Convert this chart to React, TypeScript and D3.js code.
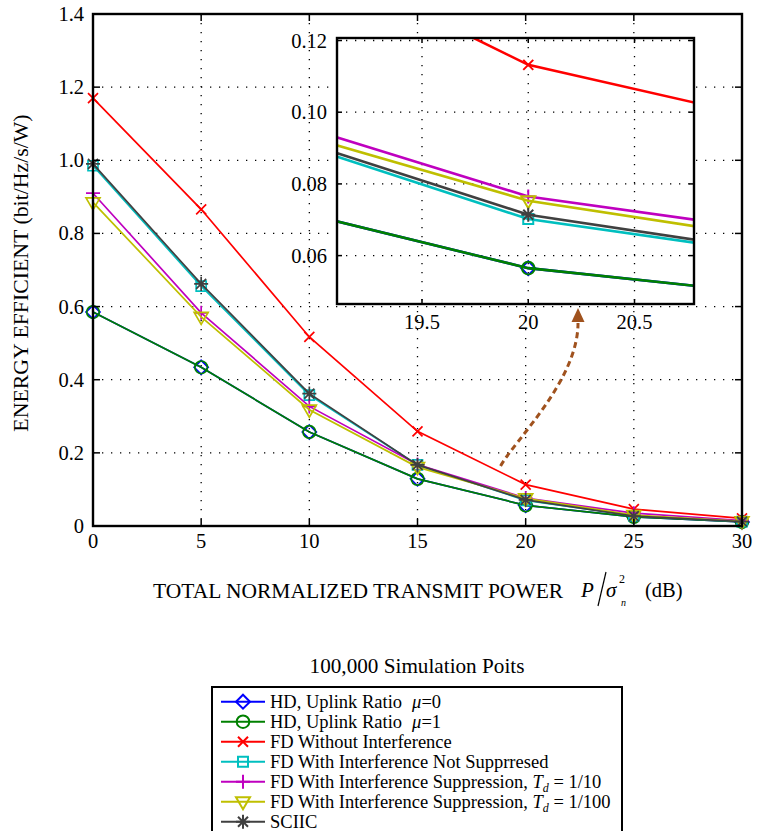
import React from 'react';
import * as d3 from 'd3';

// transmit power P/sigma_n^2 in dB
const powerDb = [0, 5, 10, 15, 20, 25, 30];

// energy efficiency (bit/Hz/s/W)
const hdMu0 = [0.585, 0.434, 0.257, 0.129, 0.0565, 0.025, 0.011];
const hdMu1 = [0.585, 0.434, 0.257, 0.129, 0.0565, 0.025, 0.011];
const fdNoInterference = [1.17, 0.866, 0.517, 0.259, 0.1132, 0.046, 0.021];
const fdNotSuppressed = [0.985, 0.656, 0.358, 0.167, 0.0702, 0.028, 0.012];
const fdTd10 = [0.91, 0.583, 0.327, 0.168, 0.0765, 0.035, 0.015];
const fdTd100 = [0.885, 0.572, 0.318, 0.161, 0.0753, 0.03, 0.013];
const sciic = [0.99, 0.662, 0.362, 0.167, 0.0714, 0.027, 0.012];

const mainXTicks = [0, 5, 10, 15, 20, 25, 30];
const mainYTicks = [0, 0.2, 0.4, 0.6, 0.8, 1.0, 1.2, 1.4];
const insetXTicks = [19.5, 20, 20.5];
const insetYTicks = [0.06, 0.08, 0.1, 0.12];

// curved arrow pointing from the x=20 cluster up to the zoomed view (data coords)
const arrowX = [18.84, 19.51, 22.42, 22.42];
const arrowY = [0.164, 0.235, 0.399, 0.555];
const arrowTip = [22.42, 0.596];

type Marker = 'diamond' | 'circle' | 'x' | 'square' | 'plus' | 'tri' | 'star';

const series: { label: string; values: number[]; color: string; marker: Marker }[] = [
  { label: 'hd0', values: hdMu0, color: '#0000ff', marker: 'diamond' },
  { label: 'hd1', values: hdMu1, color: '#008000', marker: 'circle' },
  { label: 'fd', values: fdNoInterference, color: '#ff0000', marker: 'x' },
  { label: 'ns', values: fdNotSuppressed, color: '#00bfbf', marker: 'square' },
  { label: 't10', values: fdTd10, color: '#bf00bf', marker: 'plus' },
  { label: 't100', values: fdTd100, color: '#bfbf00', marker: 'tri' },
  { label: 'sciic', values: sciic, color: '#404040', marker: 'star' },
];

const FONT = "'Liberation Serif', 'Times New Roman', serif";
const TICK_FS = 20.5;

function markerPath(m: Marker) {
  switch (m) {
    case 'diamond':
      return 'M0,-7L7,0L0,7L-7,0Z';
    case 'circle':
      return 'M6.3,0A6.3,6.3 0 1,1 -6.3,0A6.3,6.3 0 1,1 6.3,0Z';
    case 'x':
      return 'M-5,-5L5,5M-5,5L5,-5';
    case 'square':
      return 'M-5,-5H5V5H-5Z';
    case 'plus':
      return 'M-7,0H7M0,-7V7';
    case 'tri':
      return 'M-7,-4.5H7L0,7.5Z';
    case 'star':
      return 'M-7,0H7M0,-7V7M-5,-5L5,5M-5,5L5,-5';
  }
}

function Legend() {
  const x0 = 212;
  const y0 = 687;
  const rows = [
    <>HD, Uplink Ratio<tspan dx={10} fontStyle="italic">μ</tspan>=0</>,
    <>HD, Uplink Ratio<tspan dx={10} fontStyle="italic">μ</tspan>=1</>,
    <>FD Without Interference</>,
    <>FD With Interference Not Supprresed</>,
    <>FD With Interference Suppression, <tspan fontStyle="italic">T</tspan><tspan fontStyle="italic" fontSize={12} dy={4}>d</tspan><tspan dy={-4}> = 1/10</tspan></>,
    <>FD With Interference Suppression, <tspan fontStyle="italic">T</tspan><tspan fontStyle="italic" fontSize={12} dy={4}>d</tspan><tspan dy={-4}> = 1/100</tspan></>,
    <>SCIIC</>,
  ];
  return (
    <g>
      <rect x={x0} y={y0} width={410} height={170} fill="#fff" stroke="#000" strokeWidth={2} />
      {series.map((s, i) => {
        const cy = 701.7 + i * 20;
        return (
          <g key={s.label}>
            <line x1={221} x2={265} y1={cy} y2={cy} stroke={s.color} strokeWidth={2} />
            <path d={markerPath(s.marker)} transform={`translate(243,${cy})`} fill="none" stroke={s.color} strokeWidth={2} />
            <text x={270} y={cy + 6} fontSize={18.5}>{rows[i]}</text>
          </g>
        );
      })}
    </g>
  );
}

export default function App() {
  const x = d3.scaleLinear().domain([0, 30]).range([93, 742]);
  const y = d3.scaleLinear().domain([0, 1.4]).range([526, 14]);

  const ix = d3.scaleLinear().domain([19.1, 20.78]).range([337, 694]);
  const iy = d3.scaleLinear().domain([0.0465, 0.1207]).range([304, 38]);

  const mainLine = d3.line<number>().x((_, i) => x(powerDb[i])).y((d) => y(d));
  const insetLine = d3.line<number>().x((_, i) => ix(powerDb[i])).y((d) => iy(d));

  const arrowPath = d3.path();
  arrowPath.moveTo(x(arrowX[0]), y(arrowY[0]));
  arrowPath.bezierCurveTo(x(arrowX[1]), y(arrowY[1]), x(arrowX[2]), y(arrowY[2]), x(arrowX[3]), y(arrowY[3]));
  const tipX = x(arrowTip[0]);
  const tipY = y(arrowTip[1]);

  const grid = { stroke: '#000', strokeWidth: 1.3, strokeDasharray: '1.3 7.7' };

  return (
    <svg
      width={758}
      height={831}
      style={{ position: 'absolute', left: 0, top: 0, background: '#fff', fontFamily: FONT }}
    >
      <defs>
        <clipPath id="inset-clip">
          <rect x={337} y={38} width={357} height={266} />
        </clipPath>
      </defs>

      {/* main grid */}
      {mainXTicks.slice(1, -1).map((t) => (
        <line key={`gx${t}`} x1={x(t)} x2={x(t)} y1={14} y2={526} {...grid} />
      ))}
      {mainYTicks.slice(1, -1).map((t) => (
        <line key={`gy${t}`} x1={93} x2={742} y1={y(t)} y2={y(t)} {...grid} />
      ))}

      {/* main series */}
      {series.map((s) => (
        <g key={s.label}>
          <path d={mainLine(s.values) ?? ''} fill="none" stroke={s.color} strokeWidth={1.7} />
          {s.values.map((v, i) => (
            <path
              key={i}
              d={markerPath(s.marker)}
              transform={`translate(${x(powerDb[i])},${y(v)})`}
              fill="none"
              stroke={s.color}
              strokeWidth={1.7}
            />
          ))}
        </g>
      ))}

      {/* main box + ticks */}
      <rect x={93} y={14} width={649} height={512} fill="none" stroke="#000" strokeWidth={2.4} />
      {mainXTicks.map((t) => (
        <g key={`tx${t}`}>
          <line x1={x(t)} x2={x(t)} y1={526} y2={519} stroke="#000" strokeWidth={1.5} />
          <line x1={x(t)} x2={x(t)} y1={14} y2={21} stroke="#000" strokeWidth={1.5} />
          <text x={x(t)} y={548} fontSize={TICK_FS} textAnchor="middle">{t}</text>
        </g>
      ))}
      {mainYTicks.map((t) => (
        <g key={`ty${t}`}>
          <line x1={93} x2={100} y1={y(t)} y2={y(t)} stroke="#000" strokeWidth={1.5} />
          <line x1={742} x2={735} y1={y(t)} y2={y(t)} stroke="#000" strokeWidth={1.5} />
          <text x={84} y={y(t) + 7} fontSize={TICK_FS} textAnchor="end">{t === 0 ? '0' : t.toFixed(1)}</text>
        </g>
      ))}

      {/* arrow */}
      <path d={arrowPath.toString()} fill="none" stroke="#a0521e" strokeWidth={3} strokeDasharray="6 4" />
      <path d={`M${tipX},${tipY}L${tipX - 6.5},${tipY + 14}L${tipX + 6.5},${tipY + 14}Z`} fill="#a0521e" />

      {/* inset */}
      <rect x={337} y={38} width={357} height={266} fill="#fff" />
      <g clipPath="url(#inset-clip)">
        {insetXTicks.map((t) => (
          <line key={`igx${t}`} x1={ix(t)} x2={ix(t)} y1={38} y2={304} {...grid} />
        ))}
        {insetYTicks.map((t) => (
          <line key={`igy${t}`} x1={337} x2={694} y1={iy(t)} y2={iy(t)} {...grid} />
        ))}
        {series.map((s) => (
          <g key={`i${s.label}`}>
            <path d={insetLine(s.values) ?? ''} fill="none" stroke={s.color} strokeWidth={2.6} />
            {s.values.map((v, i) => (
              <path
                key={i}
                d={markerPath(s.marker)}
                transform={`translate(${ix(powerDb[i])},${iy(v)})`}
                fill="none"
                stroke={s.color}
                strokeWidth={2}
              />
            ))}
          </g>
        ))}
      </g>
      <rect x={337} y={38} width={357} height={266} fill="none" stroke="#000" strokeWidth={2.4} />
      {insetXTicks.map((t) => (
        <g key={`itx${t}`}>
          <line x1={ix(t)} x2={ix(t)} y1={304} y2={299} stroke="#000" strokeWidth={1.5} />
          <line x1={ix(t)} x2={ix(t)} y1={38} y2={43} stroke="#000" strokeWidth={1.5} />
          <text x={ix(t)} y={329} fontSize={TICK_FS} textAnchor="middle">{t}</text>
        </g>
      ))}
      {insetYTicks.map((t) => (
        <g key={`ity${t}`}>
          <line x1={337} x2={342} y1={iy(t)} y2={iy(t)} stroke="#000" strokeWidth={1.5} />
          <line x1={694} x2={689} y1={iy(t)} y2={iy(t)} stroke="#000" strokeWidth={1.5} />
          <text x={327} y={iy(t) + 7} fontSize={TICK_FS} textAnchor="end">{t.toFixed(2)}</text>
        </g>
      ))}

      {/* axis labels */}
      <text transform="translate(28,273) rotate(-90)" fontSize={21.8} textAnchor="middle">
        ENERGY EFFICIENT (bit/Hz/s/W)
      </text>
      <text x={153} y={598} fontSize={21.5}>TOTAL NORMALIZED TRANSMIT POWER</text>
      <text x={581} y={597} fontSize={21} fontStyle="italic">P</text>
      <line x1={598} y1={606} x2={606} y2={572} stroke="#000" strokeWidth={1.2} />
      <text x={606} y={597} fontSize={21} fontStyle="italic">σ</text>
      <text x={619} y={583} fontSize={12}>2</text>
      <text x={621} y={606} fontSize={10} fontStyle="italic">n</text>
      <text x={645} y={597} fontSize={20.5}>(dB)</text>

      {/* title above legend */}
      <text x={417} y={673} fontSize={21.2} textAnchor="middle">100,000 Simulation Poits</text>

      <Legend />
    </svg>
  );
}
